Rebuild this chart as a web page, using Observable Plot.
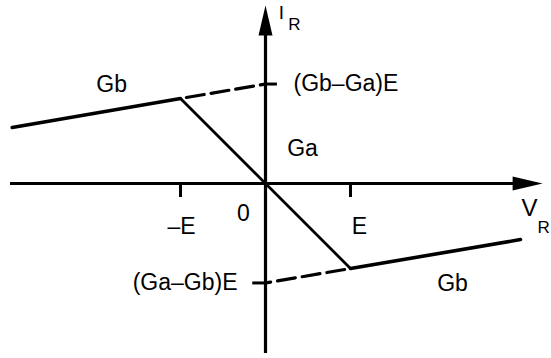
<!DOCTYPE html>
<html>
<head>
<meta charset="utf-8">
<script src="https://cdn.jsdelivr.net/npm/d3@7"></script>
<script src="https://cdn.jsdelivr.net/npm/@observablehq/plot@0.6"></script>
<style>
  html, body { margin: 0; padding: 0; background: #fff; }
  #chart svg { display: block; }
</style>
</head>
<body>
<div id="chart"></div>
<script>
// Piecewise-linear V–I characteristic (units of E on the V axis).
const curveV = [-2.98, -1, 1, 3.0];
const curveI = [0.66, 1, -1, -0.66];

// Outer-segment extensions meet the I axis at these intercepts.
const interceptI = [1.17, -1.17];
const interceptLabels = ["(Gb\u2013Ga)E", "(Ga\u2013Gb)E"];

// Breakpoints on the V axis.
const breakV = [-1, 1];
const breakLabels = ["\u2013E", "E"];

// Slope labels.
const slopeLabels = ["Gb", "Ga", "Gb"];

const curve = curveV.map((v, k) => ({v, i: curveI[k]}));
const outerLeft = curve.slice(0, 2);
const middle = curve.slice(1, 3);
const outerRight = curve.slice(2, 4);
const dashLeft = [{v: breakV[0], i: curveI[1]}, {v: 0, i: interceptI[0]}];
const dashRight = [{v: breakV[1], i: curveI[2]}, {v: 0, i: interceptI[1]}];

// Filled arrowheads with the tip at the anchor point.
const headUp = {draw(ctx) { ctx.moveTo(0, 0); ctx.lineTo(7, 30); ctx.lineTo(-7, 30); ctx.closePath(); }};
const headRight = {draw(ctx) { ctx.moveTo(0, 0); ctx.lineTo(-30, 7); ctx.lineTo(-30, -7); ctx.closePath(); }};

const font = 23;
const ink = "#000";

const chart = Plot.plot({
  width: 551,
  height: 358,
  marginLeft: 10,
  marginRight: 31,
  marginTop: 13,
  marginBottom: 5,
  x: {domain: [-3, 3], axis: null},
  y: {domain: [-2, 2], axis: null},
  style: {fontFamily: "'Liberation Sans', Arial, Helvetica, sans-serif", background: "#fff"},
  marks: [
    // Axes
    Plot.ruleY([0], {x1: -3, x2: 2.95, stroke: ink, strokeWidth: 3.2, clip: false}),
    Plot.ruleX([0], {y1: -2, y2: 1.8, stroke: ink, strokeWidth: 3.2, clip: false}),
    Plot.dot([{v: 3.26, i: 0}], {x: "v", y: "i", symbol: headRight, r: 6, fill: ink, stroke: null}),
    Plot.dot([{v: 0, i: 2.094}], {x: "v", y: "i", symbol: headUp, r: 6, fill: ink, stroke: null}),

    // Breakpoint ticks below the V axis
    Plot.ruleX(breakV, {y1: 0, y2: -0.165, stroke: ink, strokeWidth: 3}),
    // Intercept ticks on the I axis
    Plot.ruleY([interceptI[0]], {x1: 0, x2: 0.14, stroke: ink, strokeWidth: 3}),
    Plot.ruleY([interceptI[1]], {x1: -0.15, x2: 0, stroke: ink, strokeWidth: 3}),

    // Characteristic
    Plot.line(outerLeft, {x: "v", y: "i", stroke: ink, strokeWidth: 3.6}),
    Plot.line(outerRight, {x: "v", y: "i", stroke: ink, strokeWidth: 3.6}),
    Plot.line(middle, {x: "v", y: "i", stroke: ink, strokeWidth: 2.8}),
    Plot.line(dashLeft, {x: "v", y: "i", stroke: ink, strokeWidth: 3.2, strokeDasharray: "18,7", strokeDashoffset: -6}),
    Plot.line(dashRight, {x: "v", y: "i", stroke: ink, strokeWidth: 3.2, strokeDasharray: "18,7", strokeDashoffset: -6}),

    // Axis titles
    Plot.text(["I"], {x: 0, y: 2.094, text: d => d, dx: 16, dy: 7, fontSize: 19, fill: ink}),
    Plot.text(["R"], {x: 0, y: 2.094, text: d => d, dx: 29, dy: 19, fontSize: 17, fill: ink}),
    Plot.text(["V"], {x: 3.26, y: 0, text: d => d, dx: -13, dy: 25, fontSize: 24, fill: ink}),
    Plot.text(["R"], {x: 3.26, y: 0, text: d => d, dx: 1, dy: 44, fontSize: 17, fill: ink}),

    // Origin and breakpoint labels
    Plot.text(["0"], {x: 0, y: 0, text: d => d, dx: -22, dy: 30, fontSize: font, fill: ink}),
    Plot.text([breakV[0]], {x: d => d, y: 0, text: () => breakLabels[0], dx: 1, dy: 43, fontSize: font, fill: ink}),
    Plot.text([breakV[1]], {x: d => d, y: 0, text: () => breakLabels[1], dx: 9, dy: 43, fontSize: font, fill: ink}),

    // Intercept labels
    Plot.text([interceptI[0]], {x: 0, y: d => d, text: () => interceptLabels[0], dx: 28, textAnchor: "start", fontSize: font, fill: ink}),
    Plot.text([interceptI[1]], {x: 0, y: d => d, text: () => interceptLabels[1], dx: -28, textAnchor: "end", fontSize: font, fill: ink}),

    // Slope labels
    Plot.text([{v: -1.81, i: 1.16}], {x: "v", y: "i", text: () => slopeLabels[0], fontSize: font, fill: ink}),
    Plot.text([{v: 0.435, i: 0.41}], {x: "v", y: "i", text: () => slopeLabels[1], fontSize: font, fill: ink}),
    Plot.text([{v: 2.2, i: -1.176}], {x: "v", y: "i", text: () => slopeLabels[2], fontSize: font, fill: ink})
  ]
});

document.getElementById("chart").appendChild(chart);
</script>
</body>
</html>
